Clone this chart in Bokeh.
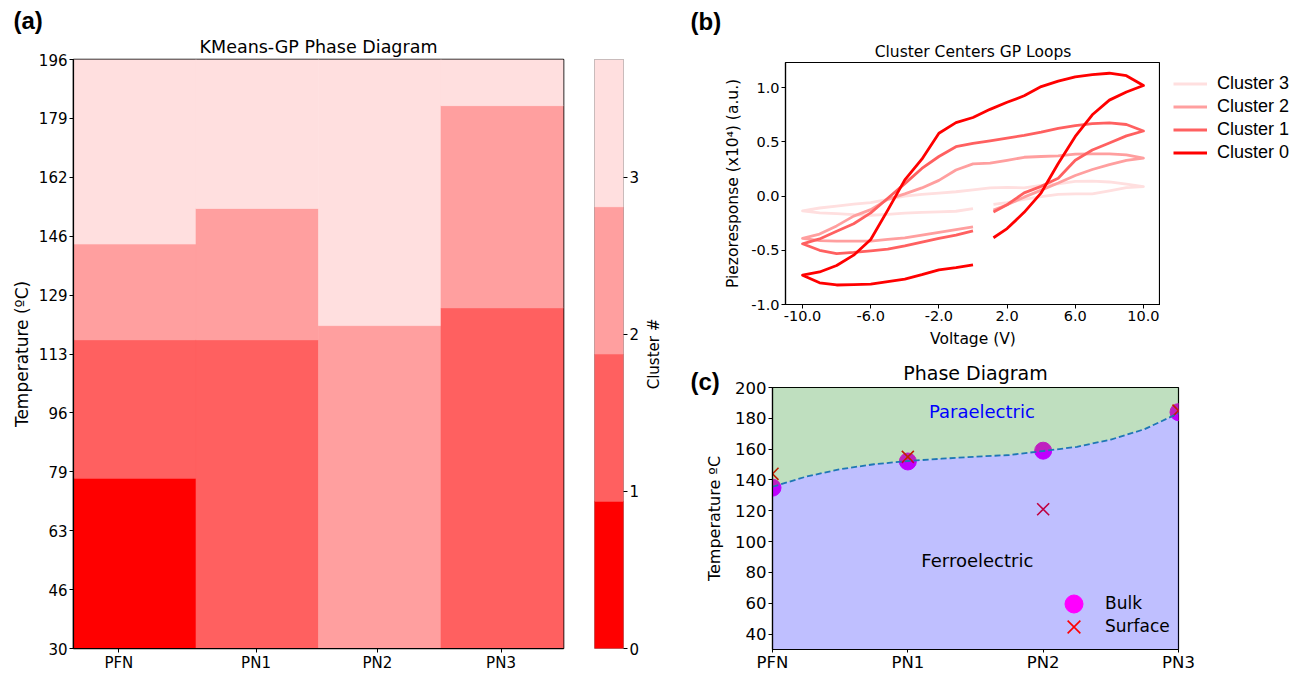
import math
import numpy as np
from bokeh.plotting import figure
from bokeh.layouts import row, column
from bokeh.models import (Range1d, FixedTicker, PrintfTickFormatter, Legend,
                          LegendItem, Label, Title, ColumnDataSource)
from bokeh.embed import file_html
from bokeh.resources import INLINE

SANS = "DejaVu Sans"
ARIAL = "Liberation Sans"

# ---------------- data ----------------
compositions = ["PFN", "PN1", "PN2", "PN3"]
cluster_ids = [0, 1, 2, 3]
cluster_colors = ["#FF0000", "#FF6060", "#FF9F9F", "#FFDFDF"]

# (a) temperature bands (degC) occupied by each cluster, per composition index
band_comp = [0, 0, 0, 0, 1, 1, 1, 2, 2, 3, 3, 3]
band_cluster = [0, 1, 2, 3, 1, 2, 3, 2, 3, 1, 2, 3]
band_t_low = [30, 78, 117, 144, 30, 117, 154, 30, 121, 30, 126, 183]
band_t_high = [78, 117, 144, 196, 117, 154, 196, 121, 196, 126, 183, 196]
temp_tick_labels = [30, 46, 63, 79, 96, 113, 129, 146, 162, 179, 196]

# (b) cluster-centre loops: voltage sweep and piezoresponse (x1e4, a.u.)
loop_voltage = [1.2, 2, 3, 4, 5, 6, 7, 8, 9, 10,
                9, 8, 7, 6, 5, 4, 3, 2, 1, 0, -1, -2, -3, -4, -5, -6, -7, -8, -9, -10,
                -9, -8, -7, -6, -5, -4, -3, -2, -1, 0]
loop_cluster_0 = [-0.384, -0.30, -0.15, 0.03, 0.30, 0.55, 0.75, 0.885, 0.96, 1.02,
                  1.11, 1.133, 1.12, 1.10, 1.06, 1.01, 0.925, 0.865, 0.80, 0.725,
                  0.677, 0.58, 0.34, 0.15, -0.13, -0.40, -0.545, -0.64, -0.70, -0.73,
                  -0.80, -0.82, -0.817, -0.812, -0.79, -0.765, -0.725, -0.68, -0.66, -0.635]
loop_cluster_1 = [-0.146, -0.08, 0.03, 0.09, 0.165, 0.33, 0.425, 0.49, 0.555, 0.60,
                  0.66, 0.675, 0.668, 0.65, 0.625, 0.59, 0.56, 0.535, 0.51, 0.485,
                  0.455, 0.365, 0.255, 0.115, -0.02, -0.155, -0.255, -0.325, -0.395, -0.44,
                  -0.50, -0.53, -0.52, -0.505, -0.49, -0.46, -0.425, -0.39, -0.36, -0.32]
loop_cluster_2 = [-0.13, -0.08, -0.01, 0.055, 0.12, 0.19, 0.245, 0.29, 0.33, 0.35,
                  0.38, 0.39, 0.39, 0.387, 0.37, 0.365, 0.358, 0.33, 0.304, 0.297,
                  0.24, 0.145, 0.075, 0.02, -0.03, -0.125, -0.185, -0.275, -0.35, -0.39,
                  -0.41, -0.415, -0.415, -0.415, -0.40, -0.385, -0.36, -0.335, -0.31, -0.285]
loop_cluster_3 = [-0.076, -0.06, -0.03, -0.005, 0.015, 0.02, 0.02, 0.048, 0.078, 0.088,
                  0.11, 0.13, 0.137, 0.135, 0.113, 0.098, 0.076, 0.08, 0.076, 0.058,
                  0.04, 0.028, 0.016, 0.0, -0.03, -0.06, -0.075, -0.092, -0.11, -0.137,
                  -0.155, -0.162, -0.172, -0.177, -0.168, -0.158, -0.15, -0.145, -0.14, -0.116]
loops = [loop_cluster_0, loop_cluster_1, loop_cluster_2, loop_cluster_3]

# (c) transition temperatures and phase boundary
phase_pos = [0, 1, 2, 3]
bulk_tc = [135, 152, 159, 184]
surface_tc = [144, 155, 121, 185]
boundary_x = [0, 0.25, 0.5, 0.75, 1, 1.25, 1.5, 1.75, 2, 2.25, 2.5, 2.75, 3]
boundary_t = [135.6, 142.2, 147, 150.2, 152.3, 153.8, 155.1, 156.2, 158.8, 161.5, 166.2, 173, 183.3]

# ---------------- helpers ----------------
def base_style(p, tick_px, label_px):
    p.grid.visible = False
    p.outline_line_color = "black"
    p.outline_line_width = 1.2
    p.background_fill_color = "white"
    p.border_fill_color = "white"
    for ax in p.axis:
        ax.major_label_text_font = SANS
        ax.major_label_text_font_size = tick_px
        ax.major_label_text_color = "black"
        ax.axis_label_text_font = SANS
        ax.axis_label_text_font_size = label_px
        ax.axis_label_text_font_style = "normal"
        ax.axis_label_text_color = "black"
        ax.minor_tick_line_color = None
        ax.major_tick_in = 0
        ax.major_tick_out = 4
        ax.major_tick_line_color = "black"
        ax.axis_line_color = "black"
        ax.axis_line_width = 1.2
        ax.major_label_standoff = 2


def set_standoff(title, v):
    try:
        title.standoff = v
    except Exception:
        title.standoff = 0


def style_title(t, font, size, bold=False):
    t.text_font = font
    t.text_font_size = size
    t.text_font_style = "bold" if bold else "normal"
    t.text_color = "black"


def letter(t, text, offset, standoff):
    # bold panel letter pulled out over the left border
    t.text = text
    t.align = "left"
    t.offset = offset
    style_title(t, ARIAL, "24px", bold=True)
    set_standoff(t, standoff)


def chart_title(p, text, size, standoff):
    t = Title(text=text, align="center")
    style_title(t, SANS, size)
    set_standoff(t, standoff)
    p.add_layout(t, "above")
    return t


def blank_figure(width, height, **kw):
    f = figure(width=width, height=height, x_range=Range1d(0, 1), y_range=Range1d(0, 1),
               output_backend="svg", toolbar_location=None, **kw)
    f.grid.visible = False
    f.outline_line_color = None
    f.background_fill_color = "white"
    f.border_fill_color = "white"
    return f


# ---------------- (a) heat map ----------------
pa = figure(width=580, height=674, x_range=Range1d(0, 4), y_range=Range1d(30, 196),
            output_backend="svg", toolbar_location=None,
            min_border_left=73, min_border_right=17, min_border_top=59, min_border_bottom=23)
band_src = ColumnDataSource(dict(
    left=band_comp, right=[c + 1 for c in band_comp],
    bottom=band_t_low, top=band_t_high,
    color=[cluster_colors[k] for k in band_cluster]))
pa.quad(left="left", right="right", bottom="bottom", top="top",
        fill_color="color", line_color="color", line_width=0.6, source=band_src)
base_style(pa, "15px", "17px")
comp_tick_pos = [0.37, 1.49, 2.48, 3.49]
pa.xaxis.ticker = FixedTicker(ticks=comp_tick_pos)
pa.xaxis.major_label_overrides = {t: c for t, c in zip(comp_tick_pos, compositions)}
pa.xaxis.major_label_standoff = 1
temp_tick_pos = [float(v) for v in np.linspace(30, 196, len(temp_tick_labels))]
pa.yaxis.ticker = FixedTicker(ticks=temp_tick_pos)
pa.yaxis.major_label_overrides = {t: str(l) for t, l in zip(temp_tick_pos, temp_tick_labels)}
pa.yaxis.axis_label = "Temperature (ºC)"
pa.yaxis.axis_label_standoff = 4
pa.outline_line_width = 1.6
letter(pa.title, "(a)", -60, -3)
chart_title(pa, "KMeans-GP Phase Diagram", "17.5px", 5)

# ---------------- colour bar ----------------
cbar_max = 3.75
bin_w = cbar_max / len(cluster_ids)
pcb = figure(width=62, height=674, x_range=Range1d(0, 1), y_range=Range1d(0, cbar_max),
             output_backend="svg", toolbar_location=None,
             x_axis_location=None, y_axis_location="right",
             min_border_left=14, min_border_right=18, min_border_top=59, min_border_bottom=23)
pcb.quad(left=0, right=1, bottom=[k * bin_w for k in cluster_ids],
         top=[(k + 1) * bin_w for k in cluster_ids],
         fill_color=cluster_colors, line_color=cluster_colors, line_width=0.6)
base_style(pcb, "15px", "15px")
pcb.outline_line_color = "#9a9a9a"
pcb.outline_line_width = 1
pcb.yaxis.axis_line_color = None
pcb.yaxis.ticker = FixedTicker(ticks=cluster_ids)

# colour-bar caption: a bare left axis whose label reads bottom-to-top
pcap = blank_figure(33, 674, x_axis_location=None, y_axis_location="left",
                    min_border_left=32, min_border_right=0, min_border_top=59, min_border_bottom=23)
pcap.yaxis.ticker = FixedTicker(ticks=[])
pcap.yaxis.axis_line_color = None
pcap.yaxis.major_tick_line_color = None
pcap.yaxis.minor_tick_line_color = None
pcap.yaxis.axis_label = "Cluster #"
pcap.yaxis.axis_label_text_font = SANS
pcap.yaxis.axis_label_text_font_size = "15px"
pcap.yaxis.axis_label_text_font_style = "normal"
pcap.yaxis.axis_label_text_color = "black"
pcap.yaxis.axis_label_standoff = 13

# ---------------- (b) loops ----------------
pb = figure(width=485, height=350, x_range=Range1d(-11, 11), y_range=Range1d(-1.0, 1.232),
            output_backend="svg", toolbar_location=None,
            min_border_left=110, min_border_right=0, min_border_top=61, min_border_bottom=46)
for k in [3, 2, 1, 0]:
    pb.line(loop_voltage, loops[k], line_color=cluster_colors[k],
            line_width=2.8, line_join="round")
base_style(pb, "14.5px", "15.5px")
pb.xaxis.ticker = FixedTicker(ticks=[-10, -6, -2, 2, 6, 10])
pb.xaxis.formatter = PrintfTickFormatter(format="%.1f")
pb.yaxis.ticker = FixedTicker(ticks=[-1.0, -0.5, 0.0, 0.5, 1.0])
pb.yaxis.formatter = PrintfTickFormatter(format="%.1f")
pb.xaxis.axis_label = "Voltage (V)"
pb.yaxis.axis_label = "Piezoresponse (x10⁴) (a.u.)"
pb.xaxis.axis_label_standoff = 6
pb.yaxis.axis_label_standoff = 6
letter(pb.title, "(b)", -95, 10)
chart_title(pb, "Cluster Centers GP Loops", "15.5px", 3)

# legend strip to the right of (b); the key lines lie outside the strip's ranges
pleg = blank_figure(133, 350, x_axis_location=None, y_axis_location=None,
                    min_border_left=0, min_border_right=0, min_border_top=0, min_border_bottom=0)
key_renderers = {k: pleg.line(x=[-2, -1], y=[-2, -2], line_color=cluster_colors[k], line_width=2.8)
                 for k in [3, 2, 1, 0]}
pleg.add_layout(Legend(items=[LegendItem(label=f"Cluster {k}", renderers=[key_renderers[k]])
                              for k in [3, 2, 1, 0]],
                       location=(13, 187), orientation="vertical",
                       label_text_font=ARIAL, label_text_font_size="18px", label_text_color="black",
                       glyph_width=34, glyph_height=21, label_height=21, spacing=2,
                       label_standoff=10, padding=0, margin=0,
                       background_fill_alpha=0, border_line_alpha=0))

# ---------------- (c) phase diagram ----------------
pc = figure(width=618, height=324, x_range=Range1d(0, 3), y_range=Range1d(30, 200),
            output_backend="svg", toolbar_location=None,
            min_border_left=97, min_border_right=115, min_border_top=37, min_border_bottom=22)
r_bulk = pc.scatter(phase_pos, bulk_tc, marker="circle", size=17,
                    fill_color="magenta", line_color="magenta")
r_surf = pc.scatter(phase_pos, surface_tc, marker="x", size=17,
                    line_color="red", line_width=1.6)
top_edge = [200] * len(boundary_x)
bottom_edge = [30] * len(boundary_x)
pc.varea(x=boundary_x, y1=boundary_t, y2=top_edge, fill_color="green", fill_alpha=0.25)
pc.varea(x=boundary_x, y1=bottom_edge, y2=boundary_t, fill_color="blue", fill_alpha=0.25)
pc.line(boundary_x, boundary_t, line_color="#1f77b4", line_width=1.8, line_dash="6 3")
base_style(pc, "16.5px", "16px")
pc.xaxis.ticker = FixedTicker(ticks=phase_pos)
pc.xaxis.major_label_overrides = {p: c for p, c in zip(phase_pos, compositions)}
pc.xaxis.major_tick_out = 3
pc.xaxis.major_label_standoff = 0
pc.yaxis.ticker = FixedTicker(ticks=list(range(40, 201, 20)))
pc.yaxis.axis_label = "Temperature ºC"
pc.yaxis.axis_label_standoff = 8
# chart title on the outer slot, panel letter on the inner slot beside the frame top
pc.title.text = "Phase Diagram"
pc.title.align = "center"
style_title(pc.title, SANS, "19px")
set_standoff(pc.title, -23)
t_letter_c = Title(text="(c)")
letter(t_letter_c, "(c)", -82, -14)
pc.add_layout(t_letter_c, "above")
pc.add_layout(Label(x=1.156, y=184.4, text="Paraelectric", text_color="blue",
                    text_font=SANS, text_font_size="18px", text_baseline="middle"))
pc.add_layout(Label(x=1.10, y=87.5, text="Ferroelectric", text_color="black",
                    text_font=SANS, text_font_size="18px", text_baseline="middle"))
# one single-entry legend per marker so the keys sit close together
for item_label, rend, vy in [("Bulk", r_bulk, 23.5), ("Surface", r_surf, 0.5)]:
    pc.add_layout(Legend(items=[LegendItem(label=item_label, renderers=[rend])],
                         location=(279, vy), orientation="vertical",
                         label_text_font=SANS, label_text_font_size="17px",
                         label_text_color="black",
                         glyph_width=45, glyph_height=45, label_height=45,
                         label_standoff=9, padding=0, margin=0,
                         background_fill_alpha=0, border_line_alpha=0))

layout = row(pa, pcb, pcap, column(row(row(pb), row(pleg)), row(pc)))
open("out.html", "w").write(file_html(layout, INLINE))
